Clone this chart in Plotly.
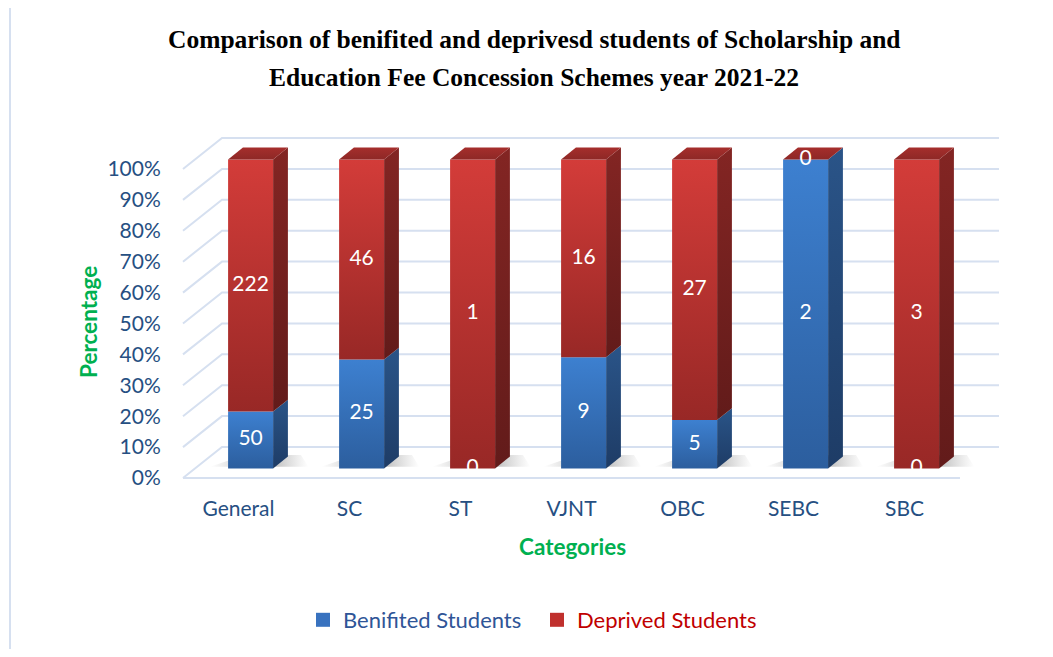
import plotly.graph_objects as go

# ---------------- data ----------------
categories = ["General", "SC", "ST", "VJNT", "OBC", "SEBC", "SBC"]
benefited = [50, 25, 0, 9, 5, 2, 0]
deprived = [222, 46, 1, 16, 27, 0, 3]
series_names = ["Benifited Students", "Deprived Students"]
y_ticks = [0, 10, 20, 30, 40, 50, 60, 70, 80, 90, 100]
y_tick_labels = [f"{t}%" for t in y_ticks]
title_lines = ["Comparison of benifited and deprivesd students of Scholarship and",
               "Education Fee Concession Schemes year 2021-22"]

totals = [b + d for b, d in zip(benefited, deprived)]
pct_b = [100.0 * b / t for b, t in zip(benefited, totals)]

# ---------------- geometry / style ----------------
OFF = 8                              # default page body margin
FIG_W, FIG_H = 1053 - OFF, 657 - 2 * OFF
PX_U, PX_V = 111.0, 3.09             # px per category, px per percent
X0_PX, Y0_PX = 183, 478              # front-left floor corner (page px)
PLOT_L, PLOT_R, PLOT_T, PLOT_B = 177, 1010, 132, 484   # page px
x_range = [(PLOT_L - X0_PX) / PX_U, (PLOT_R - X0_PX) / PX_U]
y_range = [(Y0_PX - PLOT_B) / PX_V, (Y0_PX - PLOT_T) / PX_V]
DX, DY = 39 / PX_U, 31 / PX_V        # full depth offset
BAR_W = 45 / PX_U
Z_F, Z_B = 0.31, 0.69
N = len(categories)

GRID = "#D6E0F0"
FONT = "Lato"
TICK_COL = "#264F82"

BLUE_FRONT = [[0, "#2C5E9E"], [1, "#3D80D0"]]
BLUE_SIDE = [[0, "#1E3C66"], [1, "#2A5488"]]
RED_FRONT = [[0, "#982826"], [1, "#D33C39"]]
RED_SIDE = [[0, "#621B1A"], [1, "#832523"]]
RED_TOP = [[0, "#8E2826"], [1, "#A52E2C"]]


def P(x, v, z):
    return x + z * DX, v + z * DY


fig = go.Figure()

# back wall + side wall gridlines, floor front edge
gx, gy = [], []
for t in y_ticks:
    for pt in (P(0, t, 0), P(0, t, 1), P(N, t, 1)):
        gx.append(pt[0]); gy.append(pt[1])
    gx.append(None); gy.append(None)
gx += [0, N]; gy += [0, 0]
fig.add_trace(go.Scatter(x=gx, y=gy, mode="lines", line=dict(color=GRID, width=2),
                         hoverinfo="skip", showlegend=False))


def poly(pts, scale, gtype="vertical"):
    xs = [p[0] for p in pts] + [pts[0][0]]
    ys = [p[1] for p in pts] + [pts[0][1]]
    fig.add_trace(go.Scatter(x=xs, y=ys, mode="lines", fill="toself",
                             line=dict(width=0, color="rgba(0,0,0,0)"),
                             fillgradient=dict(type=gtype, colorscale=scale),
                             hoverinfo="skip", showlegend=False))


# shadows on floor
for i in range(N):
    cx = i + 0.5
    xl, xr = cx - BAR_W / 2, cx + BAR_W / 2
    pts = [P(xl - 0.18, 0, Z_F + 0.05), P(xr + 0.30, 0, Z_F + 0.05),
           P(xr + 0.10, 0, Z_B + 0.05), P(xl, 0, Z_B + 0.05)]
    poly(pts, [[0, "rgba(120,120,120,0)"], [0.55, "rgba(80,80,80,0.5)"],
               [1, "rgba(120,120,120,0)"]], "horizontal")

# bars
for i in range(N):
    cx = i + 0.5
    xl, xr = cx - BAR_W / 2, cx + BAR_W / 2
    segs = [(0, pct_b[i], BLUE_FRONT, BLUE_SIDE), (pct_b[i], 100, RED_FRONT, RED_SIDE)]
    for v0, v1, fc, sc in segs:
        if v1 - v0 <= 0:
            continue
        poly([P(xr, v0, Z_F), P(xr, v0, Z_B), P(xr, v1, Z_B), P(xr, v1, Z_F)], sc)
        poly([P(xl, v0, Z_F), P(xr, v0, Z_F), P(xr, v1, Z_F), P(xl, v1, Z_F)], fc)
    poly([P(xl, 100, Z_F), P(xr, 100, Z_F), P(xr, 100, Z_B), P(xl, 100, Z_B)], RED_TOP)

# data labels
lx, ly, lt = [], [], []
for i in range(N):
    cx = i + 0.5
    for v, val in ((pct_b[i] / 2, benefited[i]), ((pct_b[i] + 100) / 2, deprived[i])):
        p = P(cx, v, Z_F)
        lx.append(p[0]); ly.append(p[1]); lt.append(str(val))
fig.add_trace(go.Scatter(x=lx, y=ly, text=lt, mode="text",
                         textfont=dict(family=FONT, size=21, color="white"),
                         hoverinfo="skip", showlegend=False))

# legend entries
fig.add_trace(go.Scatter(x=[None], y=[None], mode="markers",
                         marker=dict(symbol="square", size=14, color="#3872BF"),
                         name=f'<span style="color:#2F5597">{series_names[0]}</span>'))
fig.add_trace(go.Scatter(x=[None], y=[None], mode="markers",
                         marker=dict(symbol="square", size=14, color="#C0302D"),
                         name=f'<span style="color:#C00000">{series_names[1]}</span>'))

plot_w = PLOT_R - PLOT_L
plot_h = PLOT_B - PLOT_T


def px2paper(px, py):
    return (px - PLOT_L) / plot_w, (PLOT_B - py) / plot_h


ax_x, ax_y = px2paper(88, 322)
cx_x, cx_y = px2paper(572, 546)
lg_x, lg_y = px2paper(537, 620)
t1_x, t1_y = px2paper(534, 40)
t2_x, t2_y = px2paper(534, 77)
b0 = px2paper(10, 3)
b1 = px2paper(1070, 680)

fig.update_layout(
    template="none",
    width=FIG_W, height=FIG_H,
    margin=dict(l=PLOT_L - OFF, r=FIG_W - (PLOT_R - OFF), t=PLOT_T - OFF,
                b=FIG_H - (PLOT_B - OFF), autoexpand=False),
    paper_bgcolor="white", plot_bgcolor="white",
    xaxis=dict(range=x_range, showgrid=False, zeroline=False, showline=False,
               tickvals=[i + 0.5 for i in range(N)], ticktext=categories,
               ticks="outside", ticklen=6, tickcolor="rgba(0,0,0,0)",
               tickfont=dict(family=FONT, size=21, color=TICK_COL),
               fixedrange=True, automargin=False),
    yaxis=dict(range=y_range, showgrid=False, zeroline=False, showline=False,
               tickvals=y_ticks, ticktext=y_tick_labels,
               ticks="outside", ticklen=11, tickcolor="rgba(0,0,0,0)",
               tickfont=dict(family=FONT, size=21, color=TICK_COL),
               fixedrange=True, automargin=False),
    legend=dict(orientation="h", x=lg_x, y=lg_y, xanchor="center", yanchor="middle",
                font=dict(family=FONT, size=22), itemsizing="trace",
                entrywidth=189, bgcolor="rgba(0,0,0,0)"),
    annotations=[
        dict(text=f"<b>{title_lines[0]}</b>", x=t1_x, y=t1_y, xref="paper", yref="paper",
             showarrow=False, xanchor="center", yanchor="middle",
             font=dict(family="Liberation Serif", size=25.5, color="black")),
        dict(text=f"<b>{title_lines[1]}</b>", x=t2_x, y=t2_y, xref="paper", yref="paper",
             showarrow=False, xanchor="center", yanchor="middle",
             font=dict(family="Liberation Serif", size=25.5, color="black")),
        dict(text="<b>Percentage</b>", x=ax_x, y=ax_y, xref="paper", yref="paper",
             textangle=-90, showarrow=False, xanchor="center", yanchor="middle",
             font=dict(family=FONT, size=22.5, color="#00B050")),
        dict(text="<b>Categories</b>", x=cx_x, y=cx_y, xref="paper", yref="paper",
             showarrow=False, xanchor="center", yanchor="middle",
             font=dict(family=FONT, size=22.5, color="#00B050")),
    ],
    shapes=[dict(type="rect", xref="paper", yref="paper", x0=b0[0], y0=b1[1],
                 x1=b1[0], y1=b0[1], line=dict(color=GRID, width=2), layer="below")],
)

fig.write_html("out.html")
